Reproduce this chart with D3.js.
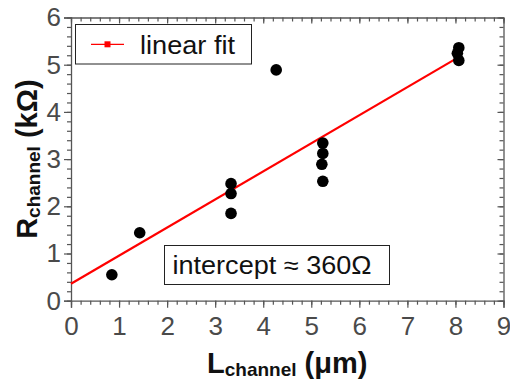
<!DOCTYPE html>
<html><head><meta charset="utf-8">
<script src="https://cdn.jsdelivr.net/npm/d3@7/dist/d3.min.js"></script>
<style>body{margin:0;background:#fff}svg{display:block}text{font-family:"Liberation Sans",Arial,sans-serif}</style>
</head><body>
<script>
const lengthsUm = [0.85, 1.43, 3.33, 3.33, 3.33, 4.27, 5.24, 5.24, 5.22, 5.24, 8.07, 8.04, 8.07];
const resistKOhm = [0.55, 1.44, 2.48, 2.27, 1.85, 4.89, 3.34, 3.12, 2.89, 2.53, 5.36, 5.24, 5.09];
const fitX = [0, 8.05];
const fitY = [0.36, 5.15];
const xTicks = [0,1,2,3,4,5,6,7,8,9];
const yTicks = [0,1,2,3,4,5,6];
const legendLabel = "linear fit";
const noteText = "intercept \u2248 360\u03A9";

const W = 510, H = 383;
const svg = d3.select("body").append("svg").attr("width", W).attr("height", H);
const x = d3.scaleLinear().domain([0, 9]).range([71, 503.5]);
const y = d3.scaleLinear().domain([0, 6]).range([300.7, 17.5]);
const axisCol = "#555", labCol = "#4a4a4a";

const xMinor = d3.range(0, 9.001, 0.2).map(v => +v.toFixed(2));
const yMinor = d3.range(0, 6.001, 0.2).map(v => +v.toFixed(2));

function style(g) {
  g.select(".domain").attr("stroke", axisCol).attr("stroke-width", 1.3);
  g.selectAll(".tick line").attr("stroke", axisCol).attr("stroke-width", 1.2);
  g.selectAll("text").attr("fill", labCol).attr("font-size", 26);
}
// bottom
const gb = svg.append("g").attr("transform", `translate(0,${y(0)})`)
  .call(d3.axisBottom(x).tickValues(xTicks).tickFormat(d3.format("d")).tickSize(7).tickPadding(9));
style(gb);
svg.append("g").attr("transform", `translate(0,${y(0)})`)
  .call(d3.axisBottom(x).tickValues(xMinor).tickFormat("").tickSize(4).tickSizeOuter(0))
  .call(g => { g.select(".domain").remove(); g.selectAll("line").attr("stroke", axisCol).attr("stroke-width", 1.2); });
// left
const gl = svg.append("g").attr("transform", `translate(${x(0)},0)`)
  .call(d3.axisLeft(y).tickValues(yTicks).tickFormat(d3.format("d")).tickSize(7).tickPadding(3));
style(gl);
svg.append("g").attr("transform", `translate(${x(0)},0)`)
  .call(d3.axisLeft(y).tickValues(yMinor).tickFormat("").tickSize(4).tickSizeOuter(0))
  .call(g => { g.select(".domain").remove(); g.selectAll("line").attr("stroke", axisCol).attr("stroke-width", 1.2); });
// top (inward)
svg.append("g").attr("transform", `translate(0,${y(6)})`)
  .call(d3.axisBottom(x).tickValues(xTicks).tickFormat("").tickSize(6).tickSizeOuter(0))
  .call(g => { g.select(".domain").attr("stroke", axisCol).attr("stroke-width", 1.3); g.selectAll("line").attr("stroke", axisCol).attr("stroke-width", 1.2); });
svg.append("g").attr("transform", `translate(0,${y(6)})`)
  .call(d3.axisBottom(x).tickValues(xMinor).tickFormat("").tickSize(4).tickSizeOuter(0))
  .call(g => { g.select(".domain").remove(); g.selectAll("line").attr("stroke", axisCol).attr("stroke-width", 1.2); });
// right (inward)
svg.append("g").attr("transform", `translate(${x(9)},0)`)
  .call(d3.axisLeft(y).tickValues(yTicks).tickFormat("").tickSize(6).tickSizeOuter(0))
  .call(g => { g.select(".domain").attr("stroke", axisCol).attr("stroke-width", 1.3); g.selectAll("line").attr("stroke", axisCol).attr("stroke-width", 1.2); });
svg.append("g").attr("transform", `translate(${x(9)},0)`)
  .call(d3.axisLeft(y).tickValues(yMinor).tickFormat("").tickSize(4).tickSizeOuter(0))
  .call(g => { g.select(".domain").remove(); g.selectAll("line").attr("stroke", axisCol).attr("stroke-width", 1.2); });

// fit line
svg.append("line")
  .attr("x1", x(fitX[0])).attr("y1", y(fitY[0]))
  .attr("x2", x(fitX[1])).attr("y2", y(fitY[1]))
  .attr("stroke", "#ff0000").attr("stroke-width", 2.2);

// points
svg.append("g").selectAll("circle").data(lengthsUm.map((v, i) => [v, resistKOhm[i]]))
  .join("circle").attr("cx", d => x(d[0])).attr("cy", d => y(d[1])).attr("r", 5.8).attr("fill", "#000");

// legend
svg.append("rect").attr("x", 75.5).attr("y", 24.5).attr("width", 176).attr("height", 39.5)
  .attr("fill", "#fff").attr("stroke", "#222").attr("stroke-width", 1);
svg.append("line").attr("x1", 91).attr("x2", 124).attr("y1", 44.3).attr("y2", 44.3).attr("stroke", "#ff0000").attr("stroke-width", 1.2);
svg.append("rect").attr("x", 104.5).attr("y", 41.3).attr("width", 6).attr("height", 6).attr("fill", "#ff0000");
svg.append("text").attr("x", 140).attr("y", 53.5).attr("font-size", 25).attr("fill", "#111")
  .attr("textLength", 95).attr("lengthAdjust", "spacingAndGlyphs").text(legendLabel);

// note box
svg.append("rect").attr("x", 164.5).attr("y", 245.5).attr("width", 225).attr("height", 39)
  .attr("fill", "#fff").attr("stroke", "#222").attr("stroke-width", 1);
svg.append("text").attr("x", 172.5).attr("y", 273.5).attr("font-size", 25).attr("fill", "#111")
  .attr("textLength", 199).attr("lengthAdjust", "spacingAndGlyphs").text(noteText);

// axis titles
const xt = svg.append("text").attr("x", (x(0) + x(9)) / 2).attr("y", 372.7).attr("text-anchor", "middle")
  .attr("font-weight", "bold").attr("font-size", 29).attr("fill", "#111");
xt.append("tspan").text("L");
xt.append("tspan").attr("font-size", 19).attr("dy", 3.5).text("channel");
xt.append("tspan").attr("dy", -3.5).text(" (\u03BCm)");

const yt = svg.append("text").attr("transform", `translate(36.7,${(y(0) + y(6)) / 2}) rotate(-90)`)
  .attr("text-anchor", "middle").attr("font-weight", "bold").attr("font-size", 29).attr("fill", "#111");
yt.append("tspan").text("R");
yt.append("tspan").attr("font-size", 19).attr("dy", 3.5).text("channel");
yt.append("tspan").attr("dy", -3.5).text(" (k\u03A9)");
</script>
</body></html>
